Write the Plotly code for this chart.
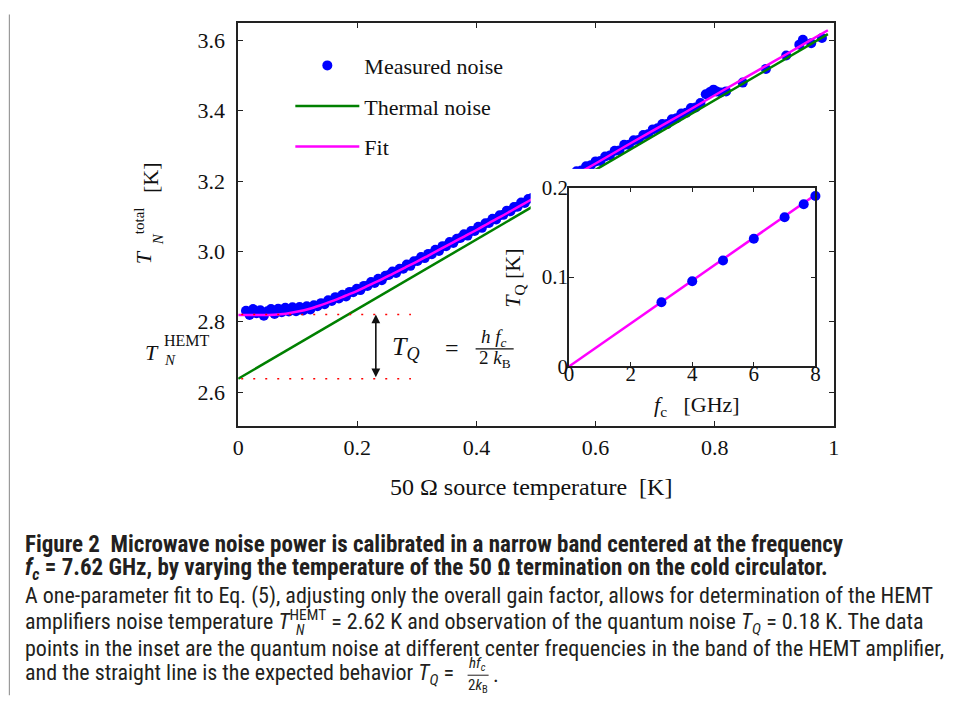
import plotly.graph_objects as go

W, H = 955, 708
# Calibration of where a figure pixel lands in the final picture (measured on
# earlier renders): picture = offset + scale * figure.
SX, OX = 0.987, 5.1
SY, OY = 0.9636, 11.5


def px(x):
    return (x - OX) / SX / W


def py(y):
    return 1 - (y - OY) / SY / H


# ---------------- data ----------------
noise_T = [0.013, 0.019, 0.025, 0.031, 0.037, 0.043, 0.049, 0.055, 0.061, 0.067,
           0.073, 0.079, 0.085, 0.091, 0.097, 0.103, 0.109, 0.115, 0.121, 0.127,
           0.133, 0.139, 0.145, 0.151, 0.157, 0.163, 0.169, 0.175, 0.181, 0.187,
           0.193, 0.199, 0.205, 0.211, 0.217, 0.223, 0.229, 0.235, 0.241, 0.247,
           0.253, 0.259, 0.265, 0.271, 0.277, 0.283, 0.289, 0.295, 0.301, 0.307,
           0.313, 0.319, 0.325, 0.331, 0.337, 0.343, 0.349, 0.355, 0.361, 0.367,
           0.373, 0.379, 0.385, 0.391, 0.397, 0.403, 0.409, 0.415, 0.421, 0.427,
           0.433, 0.439, 0.445, 0.451, 0.457, 0.463, 0.469, 0.475, 0.481, 0.487,
           0.493,
           0.560, 0.568, 0.576, 0.584, 0.592, 0.600, 0.608, 0.616, 0.624, 0.632,
           0.640, 0.648, 0.656, 0.664, 0.672, 0.680, 0.688, 0.696, 0.704, 0.712,
           0.720, 0.728, 0.736, 0.744, 0.752, 0.760, 0.768, 0.776, 0.785, 0.792,
           0.798, 0.803, 0.810, 0.819, 0.847, 0.886, 0.920, 0.942, 0.948, 0.962,
           0.980]
noise_TN = [2.831, 2.819, 2.836, 2.824, 2.833, 2.817, 2.830, 2.836, 2.822, 2.837,
            2.827, 2.840, 2.829, 2.841, 2.830, 2.842, 2.832, 2.844, 2.835, 2.847,
            2.844, 2.853, 2.850, 2.861, 2.859, 2.870, 2.866, 2.877, 2.872, 2.885,
            2.884, 2.894, 2.890, 2.902, 2.902, 2.913, 2.910, 2.922, 2.918, 2.931,
            2.933, 2.943, 2.939, 2.951, 2.951, 2.963, 2.959, 2.972, 2.973, 2.984,
            2.981, 2.993, 2.992, 3.005, 3.001, 3.015, 3.015, 3.027, 3.024, 3.036,
            3.038, 3.049, 3.045, 3.058, 3.058, 3.070, 3.067, 3.080, 3.081, 3.093,
            3.091, 3.103, 3.104, 3.116, 3.114, 3.126, 3.127, 3.139, 3.138, 3.149,
            3.152,
            3.216, 3.228, 3.230, 3.242, 3.245, 3.256, 3.257, 3.270, 3.273, 3.286,
            3.287, 3.303, 3.303, 3.316, 3.317, 3.331, 3.333, 3.347, 3.350, 3.362,
            3.362, 3.376, 3.379, 3.392, 3.394, 3.408, 3.409, 3.422, 3.447, 3.453,
            3.460, 3.455, 3.452, 3.455, 3.480, 3.519, 3.557, 3.588, 3.602, 3.592,
            3.607]

thermal_T = [0.0, 0.99]
thermal_TN = [2.638, 3.618]

fit_T = [0.0, 0.02, 0.04, 0.06, 0.08, 0.10, 0.12, 0.14, 0.16, 0.18, 0.20, 0.22,
         0.24, 0.26, 0.28, 0.30, 0.32, 0.34, 0.36, 0.38, 0.40, 0.42, 0.44, 0.46,
         0.48, 0.50, 0.56, 0.60, 0.65, 0.70, 0.75, 0.80, 0.85, 0.90, 0.95, 0.99]
fit_TN = [2.819, 2.819, 2.819, 2.820, 2.823, 2.829, 2.837, 2.848, 2.860, 2.874,
          2.888, 2.904, 2.920, 2.937, 2.954, 2.971, 2.989, 3.007, 3.025, 3.043,
          3.061, 3.080, 3.098, 3.117, 3.136, 3.155, 3.212, 3.250, 3.299, 3.347,
          3.395, 3.444, 3.493, 3.541, 3.590, 3.629]

# levels marked by the dotted guides and the arrow
level_total = 2.821
level_hemt = 2.638
guide_T = [0.005, 0.29]
arrow_T = 0.231

# inset: quantum noise vs centre frequency
inset_fc = [3, 4, 5, 6, 7, 7.62, 8]
inset_TQ = [0.0718, 0.0953, 0.1186, 0.1428, 0.1668, 0.1814, 0.1907]
inset_line_fc = [0, 8]
inset_line_TQ = [0, 0.192]

x_ticks = [0, 0.2, 0.4, 0.6, 0.8, 1]
x_ticklabels = ["0", "0.2", "0.4", "0.6", "0.8", "1"]
y_ticks = [2.6, 2.8, 3.0, 3.2, 3.4, 3.6]
y_ticklabels = ["2.6", "2.8", "3.0", "3.2", "3.4", "3.6"]
inset_x_ticks = [0, 2, 4, 6, 8]
inset_x_ticklabels = ["0", "2", "4", "6", "8"]
inset_y_ticks = [0, 0.1, 0.2]
inset_y_ticklabels = ["0", "0.1", "0.2"]

# ---------------- styling ----------------
SERIF = "Liberation Serif, Times New Roman, serif"
SANS = "Liberation Sans Narrow, Roboto Condensed, Liberation Sans, Arial Narrow, sans-serif"
BLUE = "#0000ff"
GREEN = "#008000"
MAGENTA = "#ff00ff"
AX = "#222222"
TXT = "#111111"

fig = go.Figure()

fig.add_trace(go.Scatter(x=noise_T, y=noise_TN, mode="markers", name="Measured noise",
                         marker=dict(color=BLUE, size=10), legendgroup="a",
                         xaxis="x", yaxis="y", cliponaxis=False))
fig.add_trace(go.Scatter(x=thermal_T, y=thermal_TN, mode="lines", name="Thermal noise",
                         line=dict(color=GREEN, width=2.5), legendgroup="b",
                         xaxis="x", yaxis="y"))
fig.add_trace(go.Scatter(x=fit_T, y=fit_TN, mode="lines", name="Fit",
                         line=dict(color=MAGENTA, width=2.5, shape="spline"),
                         legendgroup="c", xaxis="x", yaxis="y"))
for lvl in (level_total, level_hemt):
    fig.add_trace(go.Scatter(x=guide_T, y=[lvl, lvl], mode="lines", showlegend=False,
                             line=dict(color="#ff0000", width=1.5, dash="2px,10px"),
                             xaxis="x", yaxis="y", hoverinfo="skip"))

# blank panel that hides the main data behind the inset
fig.add_trace(go.Scatter(x=[], y=[], xaxis="x2", yaxis="y2", showlegend=False,
                         hoverinfo="skip"))

# inset
fig.add_trace(go.Scatter(x=inset_line_fc, y=inset_line_TQ, mode="lines",
                         line=dict(color=MAGENTA, width=2.5), showlegend=False,
                         xaxis="x3", yaxis="y3", cliponaxis=False))
fig.add_trace(go.Scatter(x=inset_fc, y=inset_TQ, mode="markers",
                         marker=dict(color=BLUE, size=10), showlegend=False,
                         xaxis="x3", yaxis="y3", cliponaxis=False))


def axis_style(size=22):
    return dict(showline=True, linecolor=AX, linewidth=1.5, mirror="ticks",
                ticks="inside", ticklen=5, tickwidth=1.2, tickcolor=AX,
                showgrid=False, zeroline=False,
                tickfont=dict(family=SERIF, size=size, color=TXT))


layout = dict(
    width=W, height=H, margin=dict(l=0, r=0, t=0, b=0),
    paper_bgcolor="white", plot_bgcolor="white",
    font=dict(family=SERIF, size=22, color=TXT),
    xaxis=dict(domain=[px(237), px(831.7)], range=[0, 1], anchor="y",
               tickvals=x_ticks, ticktext=x_ticklabels, ticklabelstandoff=1,
               **axis_style()),
    yaxis=dict(domain=[py(424.3), py(22.3)], range=[2.504, 3.65], anchor="x",
               tickvals=y_ticks, ticktext=y_ticklabels, ticklabelstandoff=7,
               **axis_style()),
    xaxis2=dict(domain=[px(529), px(826)], range=[0, 1], anchor="y2", visible=False),
    yaxis2=dict(domain=[py(419), py(168)], range=[0, 1], anchor="x2", visible=False),
    xaxis3=dict(domain=[px(567.3), px(813.3)], range=[0, 8], anchor="y3",
                tickvals=inset_x_ticks, ticktext=inset_x_ticklabels,
                ticklabelstandoff=-12, **axis_style(21)),
    yaxis3=dict(domain=[py(365), py(186.7)], range=[0, 0.2], anchor="x3",
                tickvals=inset_y_ticks, ticktext=inset_y_ticklabels,
                ticklabelstandoff=-5, **axis_style(21)),
    legend=dict(x=px(289), y=py(44), xanchor="left", yanchor="top",
                bgcolor="rgba(0,0,0,0)", font=dict(family=SERIF, size=22, color=TXT),
                traceorder="grouped", tracegroupgap=9, itemwidth=64),
    showlegend=True,
)
try:
    fig.update_layout(**layout)
except ValueError:
    for k in ("xaxis", "yaxis", "xaxis3", "yaxis3"):
        layout[k]["ticklabelstandoff"] = 0
    fig.update_layout(**layout)

ann = []


def A(text, x, y, size=22, xanchor="center", yanchor="middle", angle=0,
      family=SERIF, color=TXT):
    ann.append(dict(text=text, x=px(x), y=py(y), xref="paper", yref="paper",
                    xanchor=xanchor, yanchor=yanchor, showarrow=False,
                    textangle=angle, font=dict(family=family, size=size, color=color)))


# axis titles
A("50 Ω source temperature  [K]", 529, 485, size=24)
A("<i>T</i>", 142, 256, angle=-90)
A("total", 138, 220, size=15, angle=-90)
A("<i>N</i>", 157, 238, size=15, angle=-90)
A("[K]", 150, 177, angle=-90)
A("<i>T</i><sub>Q</sub> [K]", 513, 277, angle=-90)
A("<i>f</i><sub>c</sub>   [GHz]", 695, 404)

# T_N^HEMT label
A("<i>T</i>", 151, 351)
A("HEMT", 161, 339, size=16, xanchor="left")
A("<i>N</i>", 161, 359, size=15, xanchor="left")

# T_Q = hf_c / 2k_B
A("<i>T</i><sub><i>Q</i></sub>", 389, 347, size=26, xanchor="left")
A("=", 450, 347, size=24)
A("<i>h</i> <i>f</i><sub><i>c</i></sub>", 492, 337, size=19)
A("2 <i>k</i><sub>B</sub>", 493, 358, size=19)

# arrow between the two levels
ann.append(dict(x=arrow_T, y=level_total, ax=arrow_T, ay=level_hemt,
                xref="x", yref="y", axref="x", ayref="y", text="",
                showarrow=True, arrowside="end+start", arrowhead=2,
                arrowsize=1.1, arrowwidth=1.6, arrowcolor=TXT))

# caption
CAP = "#231f20"
A("<b>Figure 2  Microwave noise power is calibrated in a narrow band centered at the frequency</b>",
  22, 543, size=23, xanchor="left", family=SANS, color=CAP)
A("<b><i>f<sub>c</sub></i> = 7.62 GHz, by varying the temperature of the 50 Ω termination on the cold circulator.</b>",
  22, 567, size=23, xanchor="left", family=SANS, color=CAP)
A("A one-parameter fit to Eq. (5), adjusting only the overall gain factor, allows for determination of the HEMT",
  22, 594, size=22, xanchor="left", family=SANS, color=CAP)
A("amplifiers noise temperature <i>T</i><sup>HEMT</sup> = 2.62 K and observation of the quantum noise <i>T<sub>Q</sub></i> = 0.18 K. The data",
  22, 620, size=22, xanchor="left", family=SANS, color=CAP)
A("<i>N</i>", 293, 628, size=14, xanchor="left", family=SANS, color=CAP)
A("points in the inset are the quantum noise at different center frequencies in the band of the HEMT amplifier,",
  22, 646, size=22, xanchor="left", family=SANS, color=CAP)
A("and the straight line is the expected behavior <i>T<sub>Q</sub></i> =",
  22, 672, size=22, xanchor="left", family=SANS, color=CAP)
A("<i>hf<sub>c</sub></i>", 476, 662, size=15, family=SANS, color=CAP)
A("2<i>k</i><sub>B</sub>", 476, 684, size=15, family=SANS, color=CAP)
A(".", 489, 672, size=22, xanchor="left", family=SANS, color=CAP)

fig.update_layout(annotations=ann)

shapes = [
    # fraction bars
    dict(type="line", xref="paper", yref="paper", x0=px(474), x1=px(512),
         y0=py(347.5), y1=py(347.5), line=dict(color=TXT, width=1.2)),
    dict(type="line", xref="paper", yref="paper", x0=px(466), x1=px(487),
         y0=py(673), y1=py(673), line=dict(color=CAP, width=1)),
    # frame edge along the left of the figure
    dict(type="line", xref="paper", yref="paper", x0=px(8.5), x1=px(8.5),
         y0=py(14), y1=py(693), line=dict(color="#9a9a9a", width=1.2)),
]
fig.update_layout(shapes=shapes)

fig.write_html(
    "out.html",
    config={"displayModeBar": False},
    post_script=("document.body.style.margin='0';"
                 "document.body.style.overflow='hidden';"
                 "document.documentElement.style.overflow='hidden';"),
)
